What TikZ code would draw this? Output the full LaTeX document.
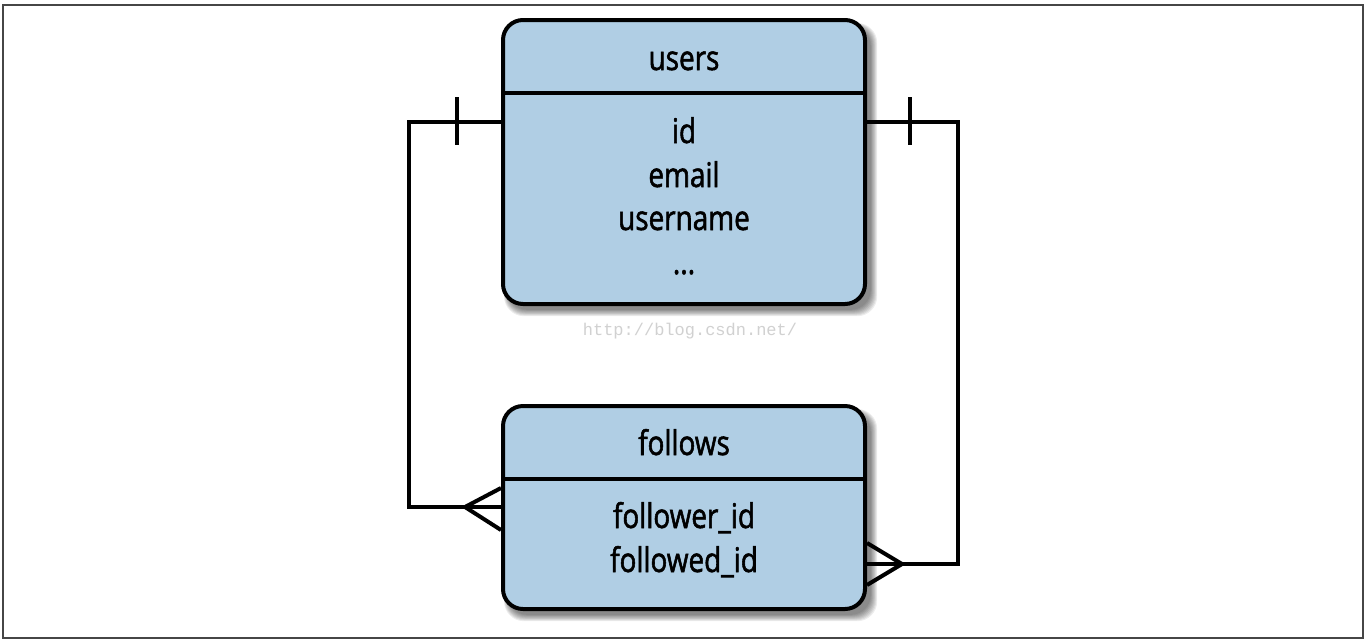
\documentclass[tikz,border=0pt]{standalone}
\usepackage{fontspec}
\setmainfont{Open Sans}
\newfontfamily\lblfont{Open Sans}[FakeStretch=0.82,FakeBold=1.6]
\newfontfamily\wmfont{Liberation Mono}
\definecolor{boxblue}{RGB}{176,206,228}
\definecolor{framegray}{RGB}{70,70,70}
\begin{document}
\begin{tikzpicture}[x=1pt,y=-1pt,
  tablebox/.style={draw=black, line width=4pt, fill=boxblue, rounded corners=20pt, inner sep=0pt},
  conn/.style={draw=black, line width=4pt},
  lbl/.style={font=\lblfont\fontsize{34}{37}\selectfont, anchor=base, inner sep=0pt},
]
\useasboundingbox (0,0) rectangle (1367,641);
\fill[white] (0,0) rectangle (1367,641);
\draw[framegray, line width=1.5pt] (3,5) rectangle (1363,638);

% shadows
\foreach \i in {1,...,8}{
  \fill[black, opacity=0.07, rounded corners=20pt] (506-\i*0.5+2,23-\i*0.5+4) rectangle (870+\i*0.9,309+\i*0.9);
  \fill[black, opacity=0.07, rounded corners=20pt] (506-\i*0.5+2,409-\i*0.5+4) rectangle (870+\i*0.9,614+\i*0.9);
}

% boxes
\node[tablebox, minimum width=362pt, minimum height=284pt] (users) at (684,162) {};
\node[tablebox, minimum width=362pt, minimum height=203pt] (follows) at (684,507.5) {};

\draw[line width=4pt] (users.west |- 0,93) coordinate (ud1) -- (users.east |- 0,93) coordinate (ud2);
\draw[line width=4pt] (follows.west |- 0,479) coordinate (fd1) -- (follows.east |- 0,479) coordinate (fd2);

% texts
\node[lbl] (ut) at (684,70) {users};
\node[lbl] (u1) at (684,143) {id};
\node[lbl] (u2) at (684,187) {email};
\node[lbl] (u3) at (684,230) {username};
\node[lbl] (u4) at (684,274) {...};
\node[lbl] (ft) at (684,455) {follows};
\node[lbl] (f1) at (684,528) {follower\_id};
\node[lbl] (f2) at (684,572) {followed\_id};

% watermark
\node[font=\wmfont\fontsize{17}{20}\selectfont, text=black!18, inner sep=0pt] (wm) at (690,331) {http://blog.csdn.net/};

% connectors
\coordinate (lA) at (users.west |- 0,122);
\coordinate (lB) at (409,122);
\coordinate (lC) at (409,507);
\coordinate (lD) at (follows.west |- 0,507);
\coordinate (lApex) at (465,507);
\draw[conn] (lA) -- (lB) -- (lC) -- (lD);
\draw[conn] (lApex) -- (follows.west |- 0,488);
\draw[conn] (lApex) -- (follows.west |- 0,530);
\draw[conn] (457,97) coordinate (lt1) -- (457,145) coordinate (lt2);

\coordinate (rA) at (users.east |- 0,122);
\coordinate (rB) at (958,122);
\coordinate (rC) at (958,564);
\coordinate (rD) at (follows.east |- 0,564);
\coordinate (rApex) at (902,564);
\draw[conn] (rA) -- (rB) -- (rC) -- (rD);
\draw[conn] (rApex) -- (follows.east |- 0,543);
\draw[conn] (rApex) -- (follows.east |- 0,585);
\draw[conn] (910,97) coordinate (rt1) -- (910,145) coordinate (rt2);
\end{tikzpicture}
\end{document}
